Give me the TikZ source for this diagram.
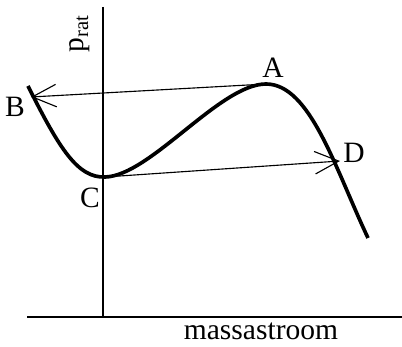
\documentclass[tikz,border=0pt]{standalone}
\usepackage{fontspec}
\setmainfont{Liberation Serif}
\usetikzlibrary{arrows.meta}

\begin{document}
\begin{tikzpicture}[x=0.025cm, y=-0.025cm,
        axis/.style={line width=1.8pt},
        kromme/.style={line width=2.6pt},
        sprong/.style={line width=0.8pt, -{Straight Barb[length=17pt, width=16pt, line width=0.8pt]}},
        every node/.style={font=\fontsize{21}{24}\selectfont, inner sep=1pt}]
        \useasboundingbox (0,0) rectangle (402,347);
        % assen
        \coordinate (yt) at (103,7);
        \coordinate (o) at (103,318);
        \coordinate (xl) at (27,317);
        \coordinate (xr) at (402,317);
        \draw[axis] (yt) -- (o);
        \draw[axis] (xl) -- (xr);
        \node[rotate=90] (plab) at (80,34) {p\textsubscript{rat}};
        \node (mlab) at (261,331) {massastroom};
        % punten op de kromme
        \coordinate (B) at (28,86);
        \coordinate (C) at (105,177);
        \coordinate (A) at (266,84);
        \coordinate (D) at (340,161);
        \coordinate (E) at (368,238);
        \draw[kromme] (B) .. controls (60,150) and (78,178) .. (C)
            .. controls (150,176) and (220,84) .. (A)
            .. controls (310,84) and (335,168) .. (E);
        % sprongen
        \draw[sprong] (A) -- (31,97);
        \draw[sprong] (C) -- (D);
        \node (lA) at (273,68) {A};
        \node (lB) at (15,107) {B};
        \node (lC) at (90,198) {C};
        \node (lD) at (354,153) {D};
\end{tikzpicture}
\end{document}
